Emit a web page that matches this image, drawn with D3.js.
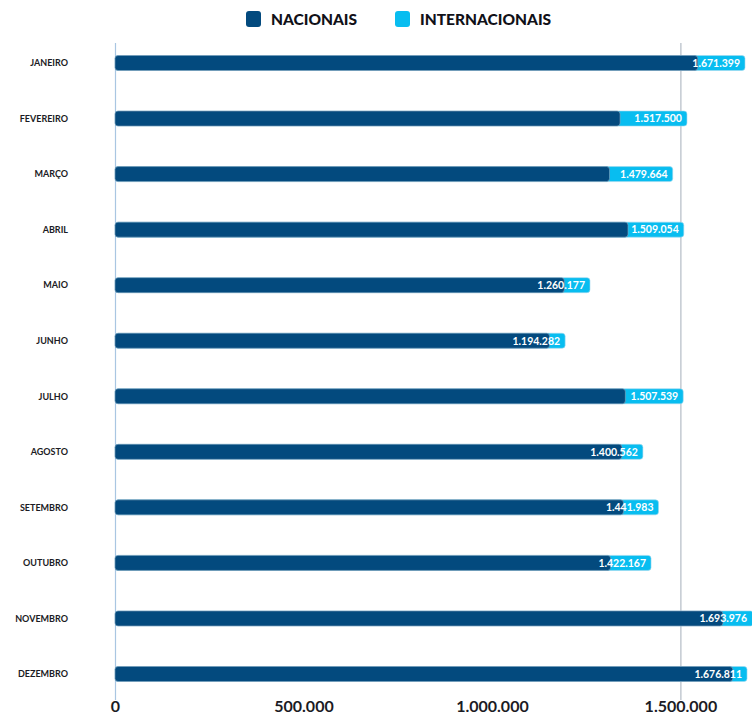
<!DOCTYPE html>
<html>
<head>
<meta charset="utf-8">
<script src="https://cdn.jsdelivr.net/npm/d3@7"></script>
<style>
  html, body { margin: 0; padding: 0; background: #ffffff; }
  svg { display: block; font-family: Lato, "Open Sans", sans-serif; }
</style>
</head>
<body>
<svg id="chart" width="752" height="714"></svg>
<script>
// Passageiros por mês, divididos entre voos nacionais e internacionais
const months = ["JANEIRO", "FEVEREIRO", "MARÇO", "ABRIL", "MAIO", "JUNHO",
                "JULHO", "AGOSTO", "SETEMBRO", "OUTUBRO", "NOVEMBRO", "DEZEMBRO"];
const nacionais = [1546000, 1340000, 1312000, 1361000, 1192000, 1153000,
                   1354000, 1345000, 1349000, 1315000, 1613000, 1639000];
const internacionais = [125399, 177500, 167664, 148054, 68177, 41282,
                        153539, 55562, 92983, 107167, 80976, 37811];
const tickValues = [0, 500000, 1000000, 1500000];
const gridValues = [0, 1500000];
const seriesNames = ["NACIONAIS", "INTERNACIONAIS"];
const colors = { NACIONAIS: "#034a7e", INTERNACIONAIS: "#08bdf0" };

const locale = d3.formatLocale({ decimal: ",", thousands: ".", grouping: [3], currency: ["R$", ""] });
const fmt = locale.format(",d");

const svg = d3.select("#chart");
const W = 752, H = 714;

const rows = months.map((m, i) => ({
  month: m,
  nac: nacionais[i],
  int: internacionais[i],
  total: nacionais[i] + internacionais[i]
}));

const x = d3.scaleLinear().domain([0, 1690000]).range([115, 752]);
const y = d3.scalePoint().domain(months).range([63, 674]);
const barH = 15;

// grid lines
svg.append("g").selectAll("line")
  .data(gridValues)
  .join("line")
  .attr("x1", d => x(d) + 0.5).attr("x2", d => x(d) + 0.5)
  .attr("y1", 43).attr("y2", 700)
  .attr("stroke", (d, i) => i === 0 ? "#a9c6e2" : "#b4bcc6")
  .attr("stroke-width", 1.2);

// bars
const bars = svg.append("g").selectAll("g")
  .data(rows)
  .join("g");

bars.append("rect")
  .attr("x", x(0))
  .attr("y", d => y(d.month) - barH / 2)
  .attr("width", d => x(d.total) - x(0))
  .attr("height", barH)
  .attr("rx", 3)
  .attr("fill", colors.INTERNACIONAIS)
  .attr("stroke", "#9fd8ee")
  .attr("stroke-width", 0.6);

bars.append("rect")
  .attr("x", x(0))
  .attr("y", d => y(d.month) - barH / 2)
  .attr("width", d => x(d.nac) - x(0))
  .attr("height", barH)
  .attr("rx", 3)
  .attr("fill", colors.NACIONAIS)
  .attr("stroke", "#8ea4bc")
  .attr("stroke-width", 0.6);

bars.append("text")
  .attr("x", d => Math.min(x(d.total), W) - 5)
  .attr("y", d => y(d.month))
  .attr("dy", "0.36em")
  .attr("text-anchor", "end")
  .attr("fill", "#ffffff")
  .attr("font-size", 10.5)
  .attr("font-weight", 700)
  .text(d => fmt(d.total));

// category labels
svg.append("g").selectAll("text")
  .data(months)
  .join("text")
  .attr("x", 68)
  .attr("y", d => y(d))
  .attr("dy", "0.36em")
  .attr("text-anchor", "end")
  .attr("fill", "#1b1b24")
  .attr("font-size", 9)
  .attr("font-weight", 700)
  .text(d => d);

// bottom axis
const axis = d3.axisBottom(x)
  .tickValues(tickValues)
  .tickFormat(d => fmt(d))
  .tickSize(0)
  .tickPadding(0);

const gx = svg.append("g")
  .attr("transform", "translate(0,701)")
  .call(axis);
gx.select(".domain").remove();
gx.selectAll("text")
  .attr("font-family", "Lato, sans-serif")
  .attr("font-size", 16)
  .attr("font-weight", 700)
  .attr("fill", "#1b1b24");

// legend
const legend = svg.append("g");
const legendX = [246, 395];
seriesNames.forEach((name, i) => {
  const g = legend.append("g").attr("transform", `translate(${legendX[i]},11)`);
  g.append("rect")
    .attr("width", 15).attr("height", 16).attr("rx", 3)
    .attr("fill", colors[name]);
  g.append("text")
    .attr("x", 25).attr("y", 8).attr("dy", "0.36em")
    .attr("font-size", 15.5)
    .attr("font-weight", 900)
    .attr("fill", "#111118")
    .text(name);
});
</script>
</body>
</html>
